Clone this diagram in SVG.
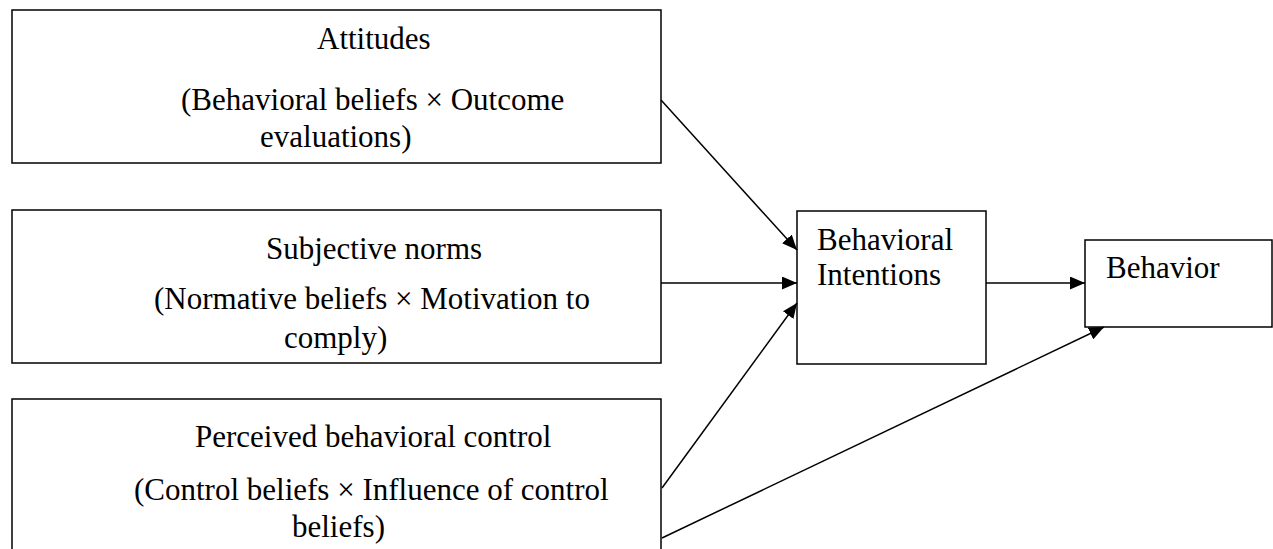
<svg xmlns="http://www.w3.org/2000/svg" width="1273" height="549" viewBox="0 0 1273 549">
<style>
.box{fill:#fff;stroke:#000;stroke-width:1.5}
.t{font-family:"Liberation Serif","Times New Roman",serif;font-size:31px;fill:#000}
.c{stroke:#000;stroke-width:1.5;fill:none;marker-end:url(#ah)}
</style>
<defs>
<marker id="ah" markerUnits="userSpaceOnUse" markerWidth="15" markerHeight="13" refX="15" refY="6.5" orient="auto">
<path d="M0,0 L15,6.5 L0,13 z" fill="#000"/>
</marker>
</defs>
<rect width="1273" height="549" fill="#fff"/>
<g id="attitudes">
<rect class="box" x="12" y="10" width="649" height="153"/>
<text class="t" x="317" y="49">Attitudes</text>
<text class="t" x="181" y="110">(Behavioral beliefs × Outcome</text>
<text class="t" x="260" y="147">evaluations)</text>
</g>
<g id="subjective-norms">
<rect class="box" x="12" y="210" width="649" height="153"/>
<text class="t" x="266" y="259">Subjective norms</text>
<text class="t" x="154" y="309">(Normative beliefs × Motivation to</text>
<text class="t" x="284" y="348">comply)</text>
</g>
<g id="perceived-control">
<rect class="box" x="12" y="399" width="649" height="170"/>
<text class="t" x="195" y="447">Perceived behavioral control</text>
<text class="t" x="134" y="500">(Control beliefs × Influence of control</text>
<text class="t" x="292" y="537">beliefs)</text>
</g>
<g id="behavioral-intentions">
<rect class="box" x="797" y="211" width="189" height="153"/>
<text class="t" x="817" y="250">Behavioral</text>
<text class="t" x="817" y="285">Intentions</text>
</g>
<g id="behavior">
<rect class="box" x="1085" y="240" width="187" height="87"/>
<text class="t" x="1106" y="278">Behavior</text>
</g>
<g id="connectors">
<line class="c" x1="661" y1="100" x2="797" y2="250"/>
<line class="c" x1="661" y1="283" x2="797" y2="283"/>
<line class="c" x1="662" y1="488" x2="797" y2="303"/>
<line class="c" x1="986" y1="283" x2="1085" y2="283"/>
<line class="c" x1="662" y1="538" x2="1104" y2="327"/>
</g>
</svg>
